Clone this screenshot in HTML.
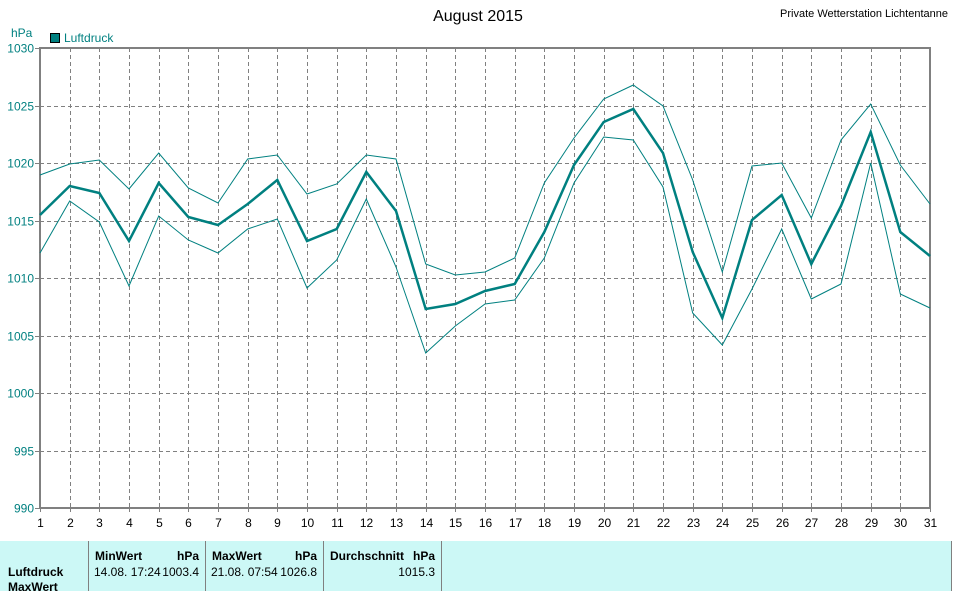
<!DOCTYPE html>
<html><head><style>
body{margin:0;background:#fff;width:960px;height:591px;overflow:hidden;font-family:"Liberation Sans",sans-serif;}
</style></head><body>
<svg width="960" height="591" xmlns="http://www.w3.org/2000/svg" style="position:absolute;left:0;top:0">
<text x="478" y="21" font-size="16" text-anchor="middle" fill="#000">August 2015</text>
<text x="948" y="17" font-size="11" text-anchor="end" fill="#000">Private Wetterstation Lichtentanne</text>
<text x="11" y="37" font-size="12" fill="#008080">hPa</text>
<rect x="50.5" y="33.5" width="9" height="9" fill="#008080" stroke="#000"/>
<text x="64" y="42" font-size="12" fill="#008080">Luftdruck</text>
<g id="grid" stroke="#808080" stroke-dasharray="4,3" stroke-width="1"></g>
<rect x="40" y="48" width="890" height="460" fill="none" stroke="#808080" stroke-width="2"/>
<g id="lab"></g>
<polyline id="mx" fill="none" stroke="#008080" stroke-width="1"/>
<polyline id="mn" fill="none" stroke="#008080" stroke-width="1"/>
<polyline id="av" fill="none" stroke="#008080" stroke-width="2.5"/>
<rect x="0" y="541" width="951" height="50" fill="#ccf8f6"/>
<line x1="951.5" y1="541" x2="951.5" y2="591" stroke="#808080"/>
<line x1="88.5" y1="541" x2="88.5" y2="591" stroke="#808080"/>
<line x1="205.5" y1="541" x2="205.5" y2="591" stroke="#808080"/>
<line x1="323.5" y1="541" x2="323.5" y2="591" stroke="#808080"/>
<line x1="441.5" y1="541" x2="441.5" y2="591" stroke="#808080"/>
<g font-size="12" fill="#000">
<text x="95" y="560" font-weight="bold">MinWert</text><text x="199" y="560" font-weight="bold" text-anchor="end">hPa</text>
<text x="212" y="560" font-weight="bold">MaxWert</text><text x="317" y="560" font-weight="bold" text-anchor="end">hPa</text>
<text x="330" y="560" font-weight="bold">Durchschnitt</text><text x="435" y="560" font-weight="bold" text-anchor="end">hPa</text>
<text x="8" y="576" font-weight="bold">Luftdruck</text>
<text x="8" y="591" font-weight="bold">MaxWert</text>
<text x="94" y="576">14.08.  17:24</text><text x="199" y="576" text-anchor="end">1003.4</text>
<text x="211" y="576">21.08.  07:54</text><text x="317" y="576" text-anchor="end">1026.8</text>
<text x="435" y="576" text-anchor="end">1015.3</text>
</g>
</svg>
<script>
var ns="http://www.w3.org/2000/svg";
function X(d){return 40+(d-1)*29.6667;}
var g=document.getElementById('grid'),lab=document.getElementById('lab');
function el(p,t,a,txt){var e=document.createElementNS(ns,t);for(var k in a)e.setAttribute(k,a[k]);if(txt)e.textContent=txt;p.appendChild(e);}
for(var d=1;d<=31;d++){var x=Math.round(X(d))+.5;if(d>1&&d<31)el(g,'line',{x1:x,y1:48,x2:x,y2:508});
el(lab,'line',{x1:x,y1:508,x2:x,y2:512,stroke:'#808080'});
el(lab,'text',{x:x,y:527,'font-size':12,'text-anchor':'middle',fill:'#000'},''+d);}
for(var i=0;i<=8;i++){var y=Math.round(48+i*57.5)+.5;if(i>0&&i<8)el(g,'line',{x1:40,y1:y,x2:930,y2:y});
el(lab,'line',{x1:35,y1:y,x2:40,y2:y,stroke:'#808080'});
el(lab,'text',{x:34,y:y+4,'font-size':12,'text-anchor':'end',fill:'#008080'},''+(1030-5*i));}
var av=[215,186,193,241,183,217,225,204,180,241,229,172,211,309,304,291,284,232,165,122,109,153,252,318,220,195,264,206,132,232,256];
var mx=[175,164,160,189,153,188,203,159,155,194,184,155,159,264,275,272,258,183,138,99,85,106,180,272,166,163,218,140,104,165,204];
var mn=[253,201,222,286,216,240,253,229,219,288,260,199,267,353,326,304,300,258,183,137,140,187,313,345,289,229,299,284,163,294,308];
function pts(a){return a.map(function(v,i){return X(i+1).toFixed(1)+','+v}).join(' ');}
document.getElementById('av').setAttribute('points',pts(av));
document.getElementById('mx').setAttribute('points',pts(mx));
document.getElementById('mn').setAttribute('points',pts(mn));
</script>
</body></html>
